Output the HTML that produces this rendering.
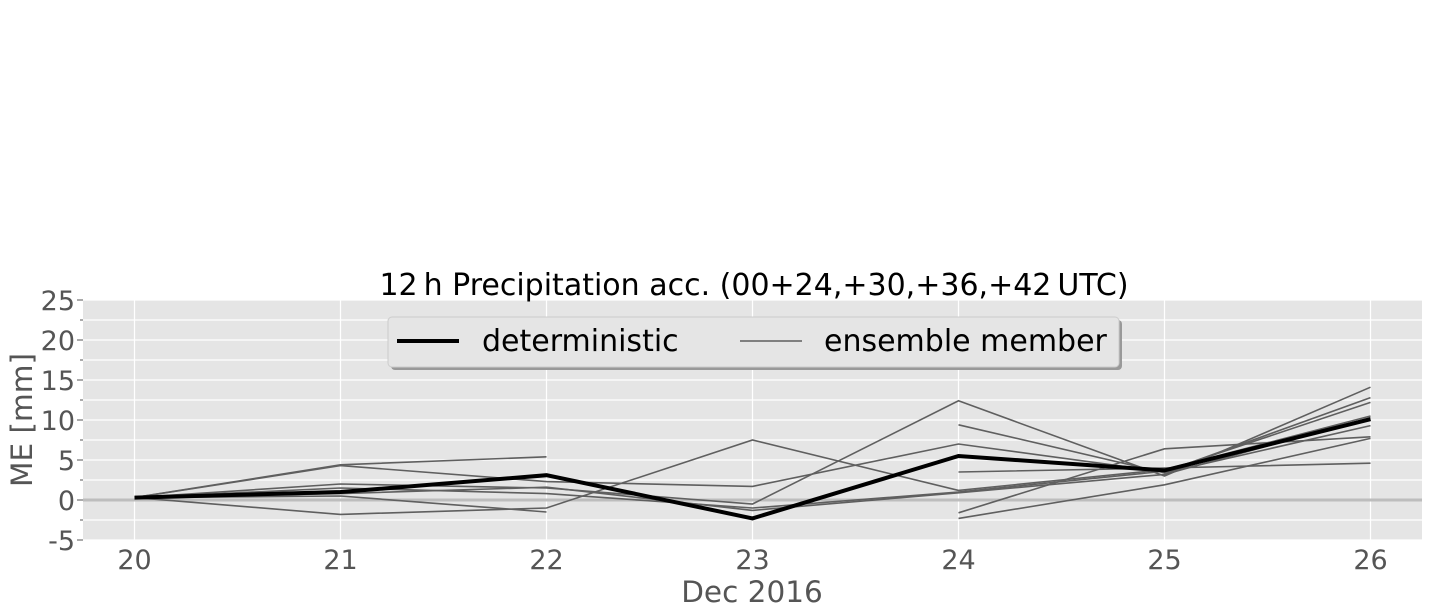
<!DOCTYPE html>
<html><head><meta charset="utf-8"><style>
body{margin:0;background:#fff;}
svg{display:block;font-family:"DejaVu Sans","Liberation Sans",sans-serif;}
</style></head><body>
<svg id="chart" width="1432" height="615"></svg>
<script>
const days=[20,21,22,23,24,25,26];
const yTicks=[-5,0,5,10,15,20,25];
const deterministic=[0.3,1.0,3.1,-2.3,5.5,3.7,10.1];
const m1=[0.3,4.4,5.4,null,null,null,null];
const m2=[0.3,4.3,2.3,1.7,7.0,3.5,12.8];
const m3=[0.3,-1.8,-1.0,7.5,1.2,3.8,10.5];
const m4=[0.3,2.0,1.5,-0.5,12.4,3.0,14.1];
const m5=[0.3,1.5,0.8,-1.0,1.0,3.6,12.2];
const m6=[0.3,0.5,-1.5,null,null,null,null];
const m7=[null,null,null,null,9.4,3.4,9.3];
const m8=[null,null,null,null,3.5,4.0,4.6];
const m9=[null,null,null,null,-1.6,6.4,7.9];
const m10=[null,null,null,null,-2.3,1.9,7.7];
const m11=[0.3,0.8,1.6,-1.3,0.9,3.2,10.3];
const members=[m1,m2,m3,m4,m5,m6,m7,m8,m9,m10,m11];

const NS="http://www.w3.org/2000/svg";
const svg=document.getElementById('chart');
const L=83,R=1422,T=300,B=540,yMin=-5,yMax=25,xMin=19.75,xMax=26.25;
const xs=d=>L+(d-xMin)/(xMax-xMin)*(R-L);
const ys=v=>B-(v-yMin)/(yMax-yMin)*(B-T);
function el(t,a,p){const e=document.createElementNS(NS,t);for(const k in a)e.setAttribute(k,a[k]);(p||svg).appendChild(e);return e;}

const bg=el('rect',{x:L,y:T,width:R-L,height:B-T,fill:'#e5e5e5'});


for(let v=yMin;v<=yMax;v+=2.5){
  el('line',{x1:L,x2:R,y1:ys(v),y2:ys(v),stroke:'#fff','stroke-width':1.2});
  el('line',{x1:L-(v%5===0?6:3),x2:L,y1:ys(v),y2:ys(v),stroke:'#555','stroke-width':1});
}
days.forEach(d=>el('line',{x1:xs(d),x2:xs(d),y1:T,y2:B,stroke:'#fff','stroke-width':1.2}));
const zl=el('line',{x1:L,x2:R,y1:ys(0),y2:ys(0),stroke:'#bdbdbd','stroke-width':3});



function drawSeries(arr,stroke,w,name){
  let d='',pen=false;
  arr.forEach((v,i)=>{if(v===null){pen=false;return;}d+=(pen?'L':'M')+xs(days[i])+' '+ys(v)+' ';pen=true;});
  const p=el('path',{d:d,fill:'none',stroke:stroke,'stroke-width':w,'stroke-linejoin':'miter'});
  
  
}
members.forEach((m,i)=>drawSeries(m,'#5f5f5f',1.6,'ensemble-member-'+(i+1)));
drawSeries(deterministic,'#000',4,'deterministic-line');

yTicks.forEach(v=>{const t=el('text',{x:L-8,y:ys(v)+10,'text-anchor':'end','font-size':27,fill:'#555'});t.textContent=v;

});
days.forEach(d=>{const t=el('text',{x:xs(d),y:569,'text-anchor':'middle','font-size':27,fill:'#555'});t.textContent=d;

});

const xt=el('text',{x:752,y:602,'text-anchor':'middle','font-size':29.5,fill:'#555'});xt.textContent='Dec 2016';


const yt=el('text',{x:0,y:0,'text-anchor':'middle','font-size':29.5,fill:'#555',transform:'translate(32,420) rotate(-90)'});yt.textContent='ME [mm]';


const tt=el('text',{x:754,y:295,'text-anchor':'middle','font-size':30,fill:'#000'});tt.textContent='12\u2009h Precipitation acc. (00+24,+30,+36,+42\u2009UTC)';



const lg=el('g',{});


el('rect',{x:391,y:320,width:731,height:50,rx:4,fill:'#999'},lg);
el('rect',{x:388,y:317,width:731,height:50,rx:4,fill:'#e5e5e5',stroke:'#ccc','stroke-width':1},lg);
el('line',{x1:397,x2:459,y1:341,y2:341,stroke:'#000','stroke-width':4},lg);
const l1=el('text',{x:482,y:351,'font-size':30,fill:'#000'},lg);l1.textContent='deterministic';


el('line',{x1:740,x2:802,y1:341,y2:341,stroke:'#5f5f5f','stroke-width':1.6},lg);
const l2=el('text',{x:824,y:351,'font-size':30,fill:'#000'},lg);l2.textContent='ensemble member';


</script>
</body></html>
